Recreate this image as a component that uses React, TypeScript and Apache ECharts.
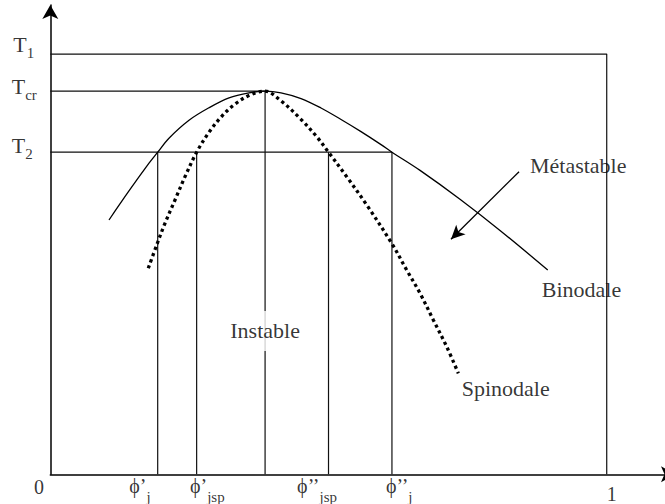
import React, { useEffect, useRef } from 'react';
import * as echarts from 'echarts';

const FONT = '"Liberation Serif", "Times New Roman", serif';

// Temperature levels (axis units)
const T1 = 90.8;
const TCR = 82.8;
const T2 = 69.6;
const tempTicks = [T1, TCR, T2];
const tempSubs = ['1', 'cr', '2'];

// Compositions (volume fraction 0..1)
const phiJ1 = 0.193;
const phiJsp1 = 0.263;
const phiC = 0.386;
const phiJsp2 = 0.5;
const phiJ2 = 0.614;
const compTicks = [phiJ1, phiJsp1, phiJsp2, phiJ2];
const compMain = ['ϕ’', 'ϕ’', 'ϕ’’', 'ϕ’’'];
const compSubs = ['j', 'jsp', 'jsp', 'j'];

// Binodale (coexistence) curve
const binodale: number[][] = [
  [0.1055, 54.95], [0.1414, 61.22], [0.1774, 67.22], [0.193, 69.6], [0.2133, 72.63],
  [0.2493, 76.51], [0.2852, 79.21], [0.3212, 81.35], [0.3571, 82.43], [0.386, 82.8],
  [0.4146, 82.43], [0.4506, 81.2], [0.4865, 79.15], [0.5225, 76.67], [0.5584, 74.05],
  [0.5944, 71.24], [0.614, 69.6], [0.6645, 65.67], [0.7363, 59.44], [0.8082, 52.7],
  [0.894, 44.14],
];

// Spinodale curve
const spinodale: number[][] = [
  [0.1761, 44.51], [0.1912, 49.55], [0.2061, 54.24], [0.2241, 59.27], [0.2421, 64.31],
  [0.263, 69.6], [0.2852, 73.9], [0.3086, 77.42], [0.3321, 80.01], [0.3589, 81.96],
  [0.386, 82.8], [0.4128, 80.88], [0.4488, 76.92], [0.4788, 72.95], [0.5, 69.6],
  [0.5327, 64.31], [0.5687, 58.19], [0.6136, 49.91], [0.6405, 44.14], [0.6645, 39.11],
  [0.6884, 33.34], [0.7124, 27.57], [0.7333, 21.82],
];

// Region annotations
const regionTexts = ['Métastable', 'Binodale', 'Spinodale', 'Instable'];
const regionAnchors: number[][] = [[0.862, 66.62], [0.8832, 39.97], [0.7394, 18.45], [0.386, 30.99]];

// Arrow pointing into the metastable region (start, tip)
const metastableArrow: number[][] = [[0.8424, 65.38], [0.7201, 50.78]];

// label offsets (style)
const tempOffsets = [[-37, -0.7], [-38.6, 3.4], [-38.6, 2.1]];
const compOffsets = [[-28.4, 22.6], [-6.7, 22.6], [-31.4, 22.6], [-6, 22.6]];

const richT = {
  m: { fontSize: 22, lineHeight: 22, verticalAlign: 'top', fontFamily: FONT, color: '#000' },
  s: { fontSize: 15, lineHeight: 39, verticalAlign: 'middle', fontFamily: FONT, color: '#000' },
};
const richB = {
  m: { fontSize: 20, lineHeight: 20, verticalAlign: 'top', fontFamily: FONT, color: '#000' },
  s: { fontSize: 15, lineHeight: 42, verticalAlign: 'middle', fontFamily: FONT, color: '#000' },
};

const guide = (name: string, data: number[][]) => ({
  type: 'line',
  name,
  data,
  symbol: 'none',
  silent: true,
  z: 1,
  lineStyle: { color: '#111', width: 1.2 },
});

export default function App() {
  const ref = useRef<HTMLDivElement>(null);

  useEffect(() => {
    if (!ref.current) return;
    const chart = echarts.init(ref.current, undefined, { renderer: 'svg' });

    const labelData: any[] = [];
    tempTicks.forEach((t, i) => {
      labelData.push({
        value: [0, t],
        label: {
          formatter: `{m|T}{s|${tempSubs[i]}}`,
          offset: tempOffsets[i],
          align: 'left',
          verticalAlign: 'middle',
          rich: richT,
        },
      });
    });
    compTicks.forEach((c, i) => {
      labelData.push({
        value: [c, 0],
        label: {
          formatter: `{m|${compMain[i]}}{s|${compSubs[i]}}`,
          offset: compOffsets[i],
          align: 'left',
          verticalAlign: 'middle',
          rich: richB,
        },
      });
    });
    labelData.push({
      value: [0, 0],
      label: { formatter: '0', offset: [-11.3, 12.9], align: 'center', verticalAlign: 'middle', fontSize: 20 },
    });
    labelData.push({
      value: [1, 0],
      label: { formatter: '1', offset: [5, 19.5], align: 'center', verticalAlign: 'middle', fontSize: 20 },
    });
    regionTexts.forEach((txt, i) => {
      const isInst = txt === 'Instable';
      labelData.push({
        value: regionAnchors[i],
        label: {
          formatter: txt,
          align: isInst ? 'center' : 'left',
          verticalAlign: 'middle',
          fontSize: 22,
          lineHeight: 22,
          offset: [0, 0],
          backgroundColor: isInst ? '#fff' : 'transparent',
          padding: isInst ? [9, 4] : 0,
        },
      });
    });

    chart.setOption({
      animation: false,
      backgroundColor: '#fff',
      textStyle: { fontFamily: FONT },
      grid: { left: 50.3, right: 5, top: 5, bottom: 29.7, containLabel: false, outerBoundsMode: 'none' },
      xAxis: {
        type: 'value',
        min: 0,
        max: 1.1227,
        axisLine: {
          show: true,
          onZero: false,
          symbol: ['none', 'arrow'],
          symbolSize: [12, 14],
          lineStyle: { color: '#000', width: 1.5 },
        },
        axisTick: { show: false },
        axisLabel: { show: false },
        splitLine: { show: false },
      },
      yAxis: {
        type: 'value',
        min: 0,
        max: 101.41,
        axisLine: {
          show: true,
          onZero: false,
          symbol: ['none', 'arrow'],
          symbolSize: [12, 14],
          lineStyle: { color: '#000', width: 1.5 },
        },
        axisTick: { show: false },
        axisLabel: { show: false },
        splitLine: { show: false },
      },
      series: [
        guide('T1', [[0, T1], [1, T1], [1, 0]]),
        guide('Tcr', [[0, TCR], [phiC, TCR], [phiC, 0]]),
        guide('T2', [[0, T2], [phiJ2, T2], [phiJ2, 0]]),
        guide('phiJ1', [[phiJ1, T2], [phiJ1, 0]]),
        guide('phiJsp1', [[phiJsp1, T2], [phiJsp1, 0]]),
        guide('phiJsp2', [[phiJsp2, T2], [phiJsp2, 0]]),
        {
          type: 'line',
          name: 'Binodale',
          data: binodale,
          symbol: 'none',
          smooth: 0.35,
          z: 3,
          lineStyle: { color: '#000', width: 1.3 },
          markLine: {
            silent: true,
            symbol: ['none', 'arrow'],
            symbolSize: [10, 14],
            label: { show: false },
            lineStyle: { color: '#000', width: 1.3, type: 'solid' },
            data: [[{ coord: metastableArrow[0] }, { coord: metastableArrow[1] }]],
          },
        },
        {
          type: 'line',
          name: 'Spinodale',
          data: spinodale,
          symbol: 'none',
          smooth: 0.35,
          z: 3,
          lineStyle: { color: '#000', width: 3.3, type: [3.2, 3.3], cap: 'butt' },
        },
        {
          type: 'scatter',
          name: 'labels',
          data: labelData,
          symbol: 'circle',
          symbolSize: 1,
          clip: false,
          silent: true,
          z: 5,
          itemStyle: { color: 'rgba(0,0,0,0)' },
          label: {
            show: true,
            position: 'inside',
            color: '#000',
            fontFamily: FONT,
          },
        },
      ],
    });

    return () => chart.dispose();
  }, []);

  return (
    <div style={{ position: 'absolute', left: 0, top: 0, width: 665, height: 504, overflow: 'hidden', background: '#fff' }}>
      <div ref={ref} style={{ width: 680, height: 504 }} />
    </div>
  );
}
